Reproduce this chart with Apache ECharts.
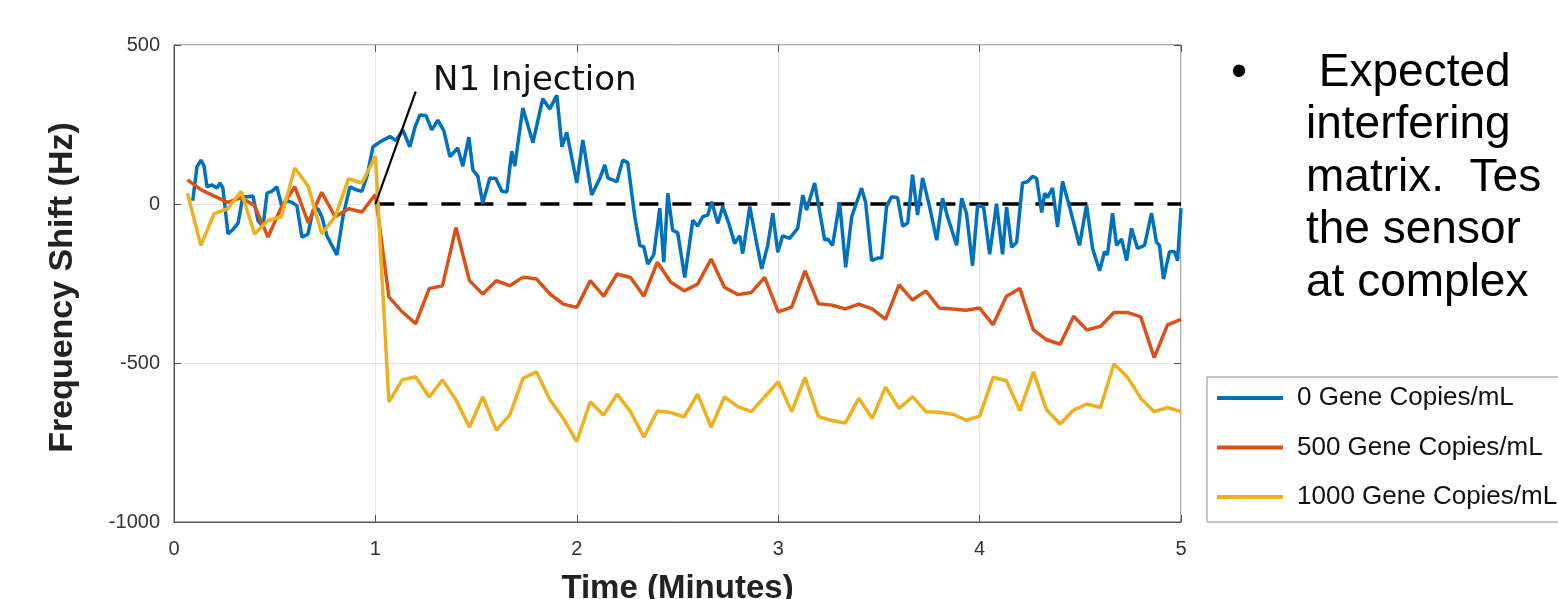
<!DOCTYPE html>
<html><head><meta charset="utf-8">
<script src="https://cdn.jsdelivr.net/npm/echarts@6/dist/echarts.min.js"></script>
<style>html,body{margin:0;padding:0;background:#fff}#c{width:1558px;height:599px}</style>
</head><body><div id="c"></div>
<script>
// ---------- data ----------
const xTicks = [0, 1, 2, 3, 4, 5];
const yTicks = [-1000, -500, 0, 500];
const seriesNames = ['0 Gene Copies/mL', '500 Gene Copies/mL', '1000 Gene Copies/mL'];

// 0 copies: dense sampling (time in minutes, shift in Hz)
const blueTime = [0.093,0.114,0.134,0.149,0.164,0.189,0.213,0.228,0.243,0.268,0.293,0.318,0.342,0.367,0.392,0.417,0.442,0.462,0.486,0.511,0.536,0.561,0.586,0.610,0.635,0.665,0.690,0.715,0.734,0.759,0.784,0.809,0.839,0.873,0.903,0.933,0.958,0.988,
1.022,1.072,1.102,1.136,1.171,1.196,1.221,1.251,1.280,1.310,1.340,1.370,1.409,1.434,1.464,1.484,1.509,1.533,1.568,1.598,1.628,1.653,1.677,1.692,1.732,1.782,1.831,1.866,1.901,1.926,1.950,2.000,
2.030,2.074,2.114,2.139,2.154,2.199,2.228,2.253,2.288,2.313,2.333,2.352,2.382,2.412,2.432,2.452,2.476,2.501,2.536,2.576,2.600,2.625,2.650,2.670,2.700,2.725,2.754,2.784,2.809,2.824,2.859,2.883,2.918,2.948,2.973,2.998,
3.022,3.057,3.097,3.122,3.141,3.181,3.231,3.246,3.270,3.305,3.335,3.365,3.414,3.434,3.464,3.494,3.514,3.538,3.563,3.593,3.618,3.643,3.667,3.692,3.717,3.752,3.787,3.816,3.841,3.886,3.911,3.935,3.965,3.990,
4.020,4.050,4.084,4.114,4.134,4.159,4.184,4.213,4.238,4.263,4.283,4.308,4.323,4.337,4.362,4.387,4.412,4.447,4.496,4.531,4.561,4.596,4.620,4.635,4.660,4.680,4.705,4.730,4.754,4.784,4.819,4.854,4.878,4.893,4.913,4.943,4.968,4.983,5.000];
const blueShift = [10,117,138,120,54,60,50,66,50,-94,-80,-60,23,23,25,-52,-70,34,40,54,-10,10,5,-5,-104,-95,-20,-15,-40,-100,-130,-160,-40,54,45,40,87,180,
195,212,200,233,180,240,280,278,233,264,230,149,176,119,210,107,87,2,82,80,40,38,166,119,302,193,331,299,342,180,225,66,
201,28,80,123,82,70,138,130,-40,-130,-135,-189,-160,-13,-183,34,-83,-90,-231,-51,-70,-40,-35,7,-61,-8,-60,-124,-100,-156,-8,-90,-204,-130,-29,-152,
-100,-108,-76,28,-19,66,-114,-110,-130,5,-199,-40,50,5,-178,-170,-170,-8,23,20,-70,-60,92,-35,82,-10,-114,18,-40,-130,18,-30,-194,-4,
-10,-158,1,-158,-10,-136,-120,66,70,87,80,-27,34,20,50,-72,71,-10,-130,-4,-140,-210,-150,-160,-29,-130,-110,-178,-76,-140,-130,-29,-120,-130,-236,-150,-150,-178,-13];

// 500 and 1000 copies: sampled every 4 s (minutes)
const coarseTime = [0.067,0.133,0.2,0.267,0.333,0.4,0.467,0.533,0.6,0.667,0.733,0.8,0.867,0.933,1.0,
1.067,1.133,1.2,1.267,1.333,1.4,1.467,1.533,1.6,1.667,1.733,1.8,1.867,1.933,2.0,
2.067,2.133,2.2,2.267,2.333,2.4,2.467,2.533,2.6,2.667,2.733,2.8,2.867,2.933,3.0,
3.067,3.133,3.2,3.267,3.333,3.4,3.467,3.533,3.6,3.667,3.733,3.8,3.867,3.933,4.0,
4.067,4.133,4.2,4.267,4.333,4.4,4.467,4.533,4.6,4.667,4.733,4.8,4.867,4.933,5.0];
const orangeShift = [76,45,25,5,20,-5,-104,-10,54,-59,37,-40,-15,-25,30,
-292,-339,-376,-266,-257,-74,-241,-283,-241,-257,-230,-236,-283,-315,-325,
-241,-290,-220,-231,-290,-183,-246,-273,-252,-173,-262,-285,-278,-231,-339,
-324,-210,-314,-318,-330,-315,-330,-363,-254,-302,-273,-327,-330,-334,-327,
-380,-290,-266,-396,-427,-441,-353,-396,-385,-341,-341,-355,-483,-380,-363];
const yellowShift = [34,-130,-30,-15,40,-94,-52,-40,113,55,-94,-40,80,66,150,
-622,-553,-543,-607,-553,-616,-702,-606,-711,-664,-548,-528,-616,-674,-747,
-622,-664,-598,-653,-733,-651,-656,-669,-598,-702,-607,-637,-653,-606,-559,
-653,-545,-669,-681,-689,-611,-674,-576,-643,-606,-653,-655,-661,-680,-667,
-545,-556,-650,-528,-648,-692,-648,-629,-640,-503,-543,-611,-653,-640,-653];

// reference (zero) line after injection and injection pointer
const baselineTime = [1, 5];
const baselineShift = [0, 0];
const pointerTime = [1, 1.2];
const pointerShift = [0, 353];

const annotationText = 'N1 Injection';
const bulletLines = [' Expected', 'interfering', 'matrix.  Tes', 'the sensor', 'at complex'];

// ---------- chart ----------
const zip = (a, b) => a.map((v, i) => [v, b[i]]);
const chart = echarts.init(document.getElementById('c'), null, {renderer: 'canvas'});
const axisColor = '#555';
const tickFont = {fontFamily: 'Liberation Sans, Arial, sans-serif', fontSize: 20, color: '#333'};
const plain = v => String(v);
const innerTick = {show: true, inside: false, length: -7, lineStyle: {color: axisColor}};

chart.setOption({
  animation: false,
  backgroundColor: '#fff',
  grid: {left: 174, right: 377, top: 45, bottom: 77, show: true, borderColor: axisColor, borderWidth: 1,
         backgroundColor: '#fff', containLabel: false, outerBoundsMode: 'none'},
  xAxis: [{
    type: 'value', min: xTicks[0], max: xTicks[xTicks.length - 1], interval: 1,
    axisLine: {show: true, onZero: false, lineStyle: {color: axisColor, width: 1}},
    axisTick: innerTick,
    axisLabel: Object.assign({margin: 17, formatter: plain}, tickFont),
    splitLine: {show: true, lineStyle: {color: '#e6e6e6', width: 1}},
    name: 'Time (Minutes)', nameLocation: 'middle', nameGap: 50,
    nameTextStyle: {fontFamily: 'Liberation Sans, Arial, sans-serif', fontWeight: 'bold', fontSize: 33, color: '#222'}
  }, {
    type: 'value', position: 'top', min: xTicks[0], max: xTicks[xTicks.length - 1], interval: 1,
    axisLine: {show: false, onZero: false}, axisLabel: {show: false}, splitLine: {show: false},
    axisTick: innerTick
  }],
  yAxis: [{
    type: 'value', min: yTicks[0], max: yTicks[yTicks.length - 1], interval: 500,
    axisLine: {show: true, onZero: false, lineStyle: {color: axisColor, width: 1}},
    axisTick: innerTick,
    axisLabel: Object.assign({margin: 14, formatter: plain}, tickFont),
    splitLine: {show: true, lineStyle: {color: '#e6e6e6', width: 1}},
    name: 'Frequency Shift (Hz)', nameLocation: 'middle', nameGap: 94, nameRotate: 90,
    nameTextStyle: {fontFamily: 'Liberation Sans, Arial, sans-serif', fontWeight: 'bold', fontSize: 34, color: '#222', padding: [0, 8, 0, 0]}
  }, {
    type: 'value', position: 'right', min: yTicks[0], max: yTicks[yTicks.length - 1], interval: 500,
    axisLine: {show: false, onZero: false}, axisLabel: {show: false}, splitLine: {show: false},
    axisTick: innerTick
  }],
  legend: {
    data: seriesNames, orient: 'vertical', left: 1207, top: 377, icon: 'rect',
    padding: [8, 10, 12, 10], itemWidth: 66, itemHeight: 4, itemGap: 23.5,
    borderColor: '#8c8c8c', borderWidth: 1, backgroundColor: '#fff', borderRadius: 0,
    textStyle: {fontFamily: 'Liberation Sans, Arial, sans-serif', fontSize: 26, color: '#111', padding: [0, 0, 0, 9]}
  },
  series: [
    {name: 'baseline', type: 'line', data: zip(baselineTime, baselineShift), symbol: 'none', silent: true,
     lineStyle: {color: '#000', width: 3.5, type: [19, 14]}, z: 1},
    {name: seriesNames[0], type: 'line', data: zip(blueTime, blueShift), symbol: 'none',
     lineStyle: {color: '#0072BD', width: 3.5}, itemStyle: {color: '#0072BD'}, z: 2},
    {name: seriesNames[1], type: 'line', data: zip(coarseTime, orangeShift), symbol: 'none',
     lineStyle: {color: '#D95319', width: 3.5}, itemStyle: {color: '#D95319'}, z: 3},
    {name: seriesNames[2], type: 'line', data: zip(coarseTime, yellowShift), symbol: 'none',
     lineStyle: {color: '#EDB120', width: 3.5}, itemStyle: {color: '#EDB120'}, z: 4},
    {name: 'pointer', type: 'line', data: zip(pointerTime, pointerShift), symbol: 'none', silent: true,
     lineStyle: {color: '#000', width: 2.2}, z: 5}
  ],
  graphic: [
    {type: 'text', x: 433, y: 81, z: 10, style: {text: annotationText, fontFamily: 'DejaVu Sans', fontSize: 34, fill: '#111', verticalAlign: 'middle', align: 'left'}},
    {type: 'text', x: 1231, y: 73, z: 10, style: {text: '\u2022', fontFamily: 'Liberation Sans, Arial', fontSize: 46, fill: '#000', verticalAlign: 'middle'}},
  ].concat(bulletLines.map((t, i) => ({
    type: 'text', x: 1306, y: 73 + i * 52.5, z: 10,
    style: {text: t, fontFamily: 'Liberation Sans, Arial', fontSize: 46, fill: '#000', verticalAlign: 'middle', align: 'left'}
  })))
});
</script></body></html>
